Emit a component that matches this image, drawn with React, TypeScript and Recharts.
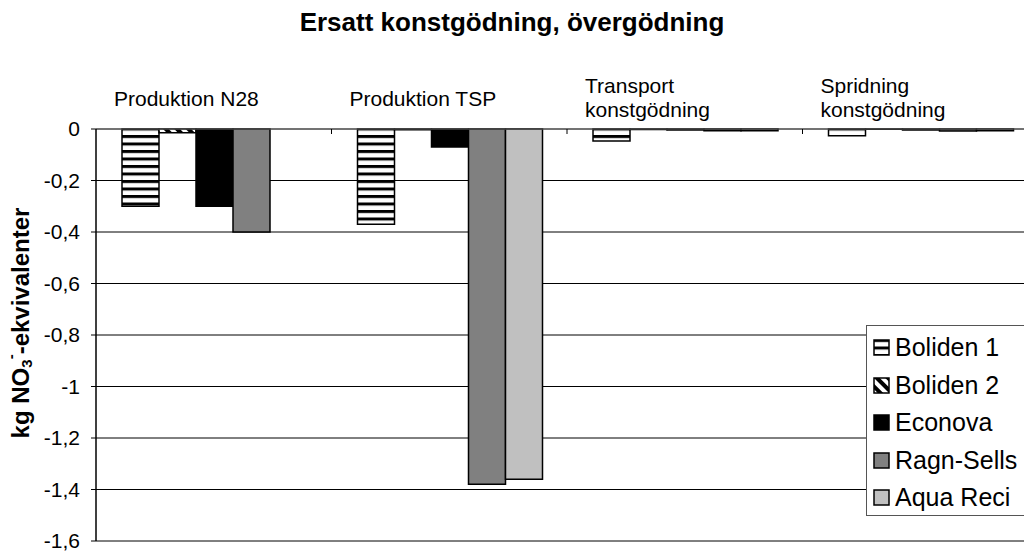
import { Bar, BarChart, CartesianGrid, XAxis, YAxis } from 'recharts'

const categories = ['Produktion N28', 'Produktion TSP', 'Transport\nkonstgödning', 'Spridning\nkonstgödning']
const boliden1 = [-0.3, -0.37, -0.047, -0.026]
const boliden2 = [-0.015, -0.003, -0.002, -0.001]
const econova = [-0.3, -0.07, -0.004, -0.004]
const ragnSells = [-0.4, -1.38, -0.007, -0.008]
const aquaReci = [0, -1.36, -0.007, -0.007]
const yTicks = [0, -0.2, -0.4, -0.6, -0.8, -1, -1.2, -1.4, -1.6]

const series = [
  { key: 'b1', name: 'Boliden 1', fill: 'url(#pB1)', values: boliden1 },
  { key: 'b2', name: 'Boliden 2', fill: 'url(#pB2)', values: boliden2 },
  { key: 'eco', name: 'Econova', fill: '#000000', values: econova },
  { key: 'rs', name: 'Ragn-Sells', fill: '#808080', values: ragnSells },
  { key: 'aq', name: 'Aqua Reci', fill: '#c0c0c0', values: aquaReci },
]

const data = categories.map((name, i) => {
  const row: Record<string, string | number> = { name }
  series.forEach((s) => (row[s.key] = s.values[i]))
  return row
})

const FONT = '"Liberation Sans", Arial, sans-serif'
const CHART_W = 1040
const CHART_H = 551
const PLOT_TOP = 129
const Y_AXIS_W = 96
const MARGIN = { top: 0, right: 2, bottom: 10, left: 0 }
const BAND = (CHART_W - Y_AXIS_W - MARGIN.left - MARGIN.right) / categories.length

const fmt = (v: number) => String(v).replace('.', ',')

function CategoryTick(props: any) {
  const { x, payload } = props
  const idx = payload.index ?? props.index
  const lines = String(payload.value).split('\n')
  const left = x - BAND / 2 + 18
  const base = lines.length === 1 ? PLOT_TOP - 23 : PLOT_TOP - 36
  return (
    <g>
      <text x={left} y={base} fontSize={21} fill="#000" textAnchor="start" fontFamily={FONT}>
        {lines.map((l, i) => (
          <tspan key={i} x={left} dy={i === 0 ? 0 : 24}>
            {l}
          </tspan>
        ))}
      </text>
      {idx < categories.length - 1 && (
        <line x1={x + BAND / 2} x2={x + BAND / 2} y1={PLOT_TOP} y2={PLOT_TOP + 5} stroke="#000" />
      )}
    </g>
  )
}

function YLabel() {
  const cx = 20
  const cy = 323
  return (
    <text
      transform={`rotate(-90 ${cx} ${cy})`}
      x={cx}
      y={cy}
      textAnchor="middle"
      dominantBaseline="central"
      fontWeight="bold"
      fontSize={24}
      fill="#000"
      fontFamily={FONT}
    >
      kg NO
      <tspan fontSize={15} dy={6}>3</tspan>
      <tspan fontSize={15} dy={-16}>-</tspan>
      <tspan dy={10}>-ekvivalenter</tspan>
    </text>
  )
}

function ChartLegend() {
  return (
    <div
      style={{
        position: 'absolute',
        left: 866,
        top: 325,
        width: 170,
        height: 191,
        border: '1px solid #555',
        background: '#fff',
        paddingTop: 3,
        boxSizing: 'border-box',
      }}
    >
      {series.map((s) => (
        <div key={s.key} style={{ height: 37.5, display: 'flex', alignItems: 'center' }}>
          <svg width={17} height={17} style={{ marginLeft: 6, marginRight: 5 }}>
            <rect x={1} y={1} width={15} height={15} fill={s.fill} stroke="#000" strokeWidth={1.5} />
          </svg>
          <span style={{ fontSize: 25, lineHeight: '25px' }}>{s.name}</span>
        </div>
      ))}
    </div>
  )
}

export default function App() {
  return (
    <div
      style={{
        position: 'absolute',
        left: 0,
        top: 0,
        width: 1024,
        height: 551,
        overflow: 'hidden',
        background: '#fff',
        fontFamily: FONT,
      }}
    >
      <div
        style={{
          position: 'absolute',
          top: 9,
          left: 0,
          width: 1024,
          textAlign: 'center',
          fontSize: 26,
          lineHeight: '26px',
          fontWeight: 'bold',
        }}
      >
        Ersatt konstgödning, övergödning
      </div>
      <BarChart width={CHART_W} height={CHART_H} data={data} margin={MARGIN} barCategoryGap={26} barGap={0}>
        <defs>
          <pattern id="pB1" patternUnits="userSpaceOnUse" width={8} height={7.5}>
            <rect width={8} height={7.5} fill="#fff" />
            <rect width={8} height={3} fill="#000" />
          </pattern>
          <pattern id="pB2" patternUnits="userSpaceOnUse" width={8} height={8} patternTransform="rotate(-45)">
            <rect width={8} height={8} fill="#fff" />
            <rect width={4} height={8} fill="#000" />
          </pattern>
        </defs>
        <CartesianGrid vertical={false} stroke="#000" strokeWidth={1} />
        <XAxis
          dataKey="name"
          orientation="top"
          height={PLOT_TOP}
          tick={<CategoryTick />}
          tickLine={false}
          axisLine={{ stroke: '#666' }}
          interval={0}
        />
        <YAxis
          width={Y_AXIS_W}
          domain={[-1.6, 0]}
          ticks={yTicks}
          interval={0}
          tickFormatter={fmt}
          tickSize={5}
          tickMargin={11}
          tick={{ fontSize: 21, fill: '#000', fontFamily: FONT }}
          tickLine={{ stroke: '#000' }}
          axisLine={{ stroke: '#000', strokeWidth: 1.5 }}
          label={{ content: <YLabel /> }}
        />
        {series.map((s) => (
          <Bar
            key={s.key}
            dataKey={s.key}
            name={s.name}
            fill={s.fill}
            stroke="#000"
            strokeWidth={1.5}
            isAnimationActive={false}
          />
        ))}
      </BarChart>
      <ChartLegend />
    </div>
  )
}
